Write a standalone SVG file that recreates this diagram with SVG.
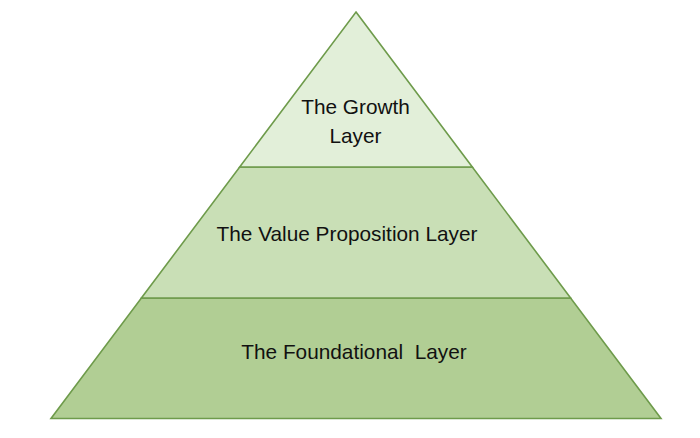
<svg xmlns="http://www.w3.org/2000/svg" width="700" height="438" viewBox="0 0 700 438">
<style>
.layer{stroke:#6e9b4b;stroke-width:1.6;stroke-linejoin:miter}
.t{font-family:"Liberation Sans",Arial,sans-serif;font-size:20.8px;fill:#111;text-anchor:middle;white-space:pre}
</style>
<rect width="700" height="438" fill="#ffffff"/>
<g id="foundational">
<polygon class="layer" points="141.4,298 570.6,298 661,418.5 51,418.5" fill="#b1ce94"/>
<text class="t" x="354" y="358.5" xml:space="preserve">The Foundational  Layer</text>
</g>
<g id="value">
<polygon class="layer" points="239.7,167 472.3,167 570.6,298 141.4,298" fill="#c9dfb6"/>
<text class="t" x="347" y="240.5">The Value Proposition Layer</text>
</g>
<g id="growth">
<polygon class="layer" points="356,12 472.3,167 239.7,167" fill="#e2efd9"/>
<text class="t" x="355.5" y="114.3">The Growth</text>
<text class="t" x="355.5" y="143">Layer</text>
</g>
</svg>
